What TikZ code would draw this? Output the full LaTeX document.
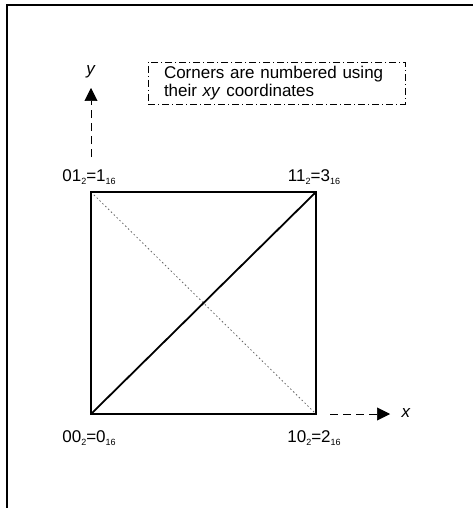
\documentclass[tikz,border=0pt]{standalone}
\usepackage{fontspec}
\setmainfont{Liberation Sans}
\usetikzlibrary{arrows.meta}
\newcommand{\lowsub}[1]{\raisebox{-3pt}{\fontsize{9}{9}\selectfont #1}}
\tikzset{>={Triangle[length=13pt,width=13pt]},every node/.style={font=\fontsize{17}{18.5}\selectfont},side/.style={line width=1.8pt},axis/.style={dash pattern=on 8pt off 5pt,line width=.6pt,->},note/.style={draw,dash pattern=on 7pt off 3pt on 1pt off 3pt,line width=.6pt}}

\begin{document}
\begin{tikzpicture}[x=1pt,y=-1pt]
\useasboundingbox (0,0) rectangle (473,508);
\draw[side] (7,508)--(7,5)--(473,5);
\coordinate (A) at (91,414);\coordinate (B) at (316,414);\coordinate (C) at (316,192);\coordinate (D) at (91,192);
\draw[black!60,dash pattern=on 1.5pt off 2.5pt,line width=.8pt] (D)--(B);
\draw[side] (A) rectangle (C);\draw[side] (A)--(C);
\node (c00) at (89,438){00\lowsub{2}=0\lowsub{16}};\node (c10) at (314,438){10\lowsub{2}=2\lowsub{16}};
\node (c01) at (89,177){01\lowsub{2}=1\lowsub{16}};\node (c11) at (314,177){11\lowsub{2}=3\lowsub{16}};
\coordinate (y0) at (91,157);\coordinate (y1) at (91,88);\draw[axis] (y0)--(y1);\node (ylab) at (91,72){\textit{y}};
\coordinate (x0) at (330,414);\coordinate (x1) at (390,414);\draw[axis] (x0)--(x1);\node (xlab) at (406,413){\textit{x}};
\node[note,text width=225pt,inner xsep=16pt,minimum height=42pt,align=left] (info) at (276.5,83){Corners are numbered using\\their \textit{xy} coordinates};
\end{tikzpicture}
\end{document}
